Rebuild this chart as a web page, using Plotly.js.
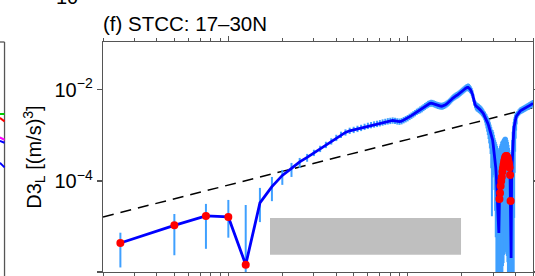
<!DOCTYPE html>
<html><head><meta charset="utf-8">
<script src="https://cdn.plot.ly/plotly-3.0.1.min.js"></script>
<style>html,body{margin:0;padding:0;background:#fff;}#chart{width:535px;height:276px;}</style>
</head><body><div id="chart"></div>
<script>
// separation distance r (km)
const r = [
  2.5, 5, 7.5, 10, 12.5, 15, 17.5, 20, 22.5, 25,
  27.5, 30, 32.5, 35, 37.5, 40, 42.5, 45, 47.5, 50,
  52.5, 55, 57.5, 60, 62.5, 65, 67.5, 70, 72.5, 75,
  77.5, 80, 82.5, 85, 87.5, 90, 92.5, 95, 97.5, 100,
  102.5, 105, 107.5, 110, 112.5, 115, 117.5, 120, 122.5, 125,
  127.5, 130, 132.5, 135, 137.5, 140, 142.5, 145, 147.5, 150,
  152.5, 155, 157.5, 160, 162.5, 165, 167.5, 170, 172.5, 175,
  177.5, 180, 182.5, 185, 187.5, 190, 192.5, 195, 197.5, 200,
  202.5, 205, 207.5, 210, 212.5, 215, 217.5, 220, 222.5, 225,
  227.5, 230, 232.5, 235, 237.5, 240, 242.5, 245, 247.5, 250,
  252.5, 255, 257.5, 260, 262.5, 265, 267.5, 270, 272.5, 275,
  277.5, 280, 282.5, 285, 287.5, 290, 292.5, 295, 297.5, 300,
  302.5, 305, 307.5, 310, 312.5, 315, 317.5, 320, 322.5, 325,
  327.5, 330, 332.5, 335, 337.5, 340, 342.5, 345, 347.5, 350,
  352.5, 355, 357.5, 360, 362.5, 365, 367.5, 370, 372.5, 375,
  377.5, 380, 382.5, 385, 387.5, 390, 392.5, 395, 397.5, 400,
  402.5, 405, 407.5, 410, 415, 420, 425, 430, 435, 440,
  445, 450, 455, 460, 465, 470, 475, 480, 485, 490,
  495, 500
];
// third-order longitudinal structure function D3_L ((m/s)^3), signed
const d3 = [
  -4.34e-6, -1.06e-5, -1.70e-5, -1.62e-5, -1.45e-6, 3.28e-5, 7.49e-5, 1.32e-4, 1.88e-4, 2.62e-4,
  3.29e-4, 4.13e-4, 5.05e-4, 6.18e-4, 7.38e-4, 8.81e-4, 1.03e-3, 1.16e-3, 1.26e-3, 1.32e-3,
  1.39e-3, 1.46e-3, 1.54e-3, 1.62e-3, 1.68e-3, 1.74e-3, 1.79e-3, 1.85e-3, 1.92e-3, 1.98e-3,
  2.04e-3, 2.08e-3, 2.12e-3, 2.08e-3, 2.03e-3, 2.00e-3, 2.05e-3, 2.16e-3, 2.27e-3, 2.39e-3,
  2.55e-3, 2.71e-3, 2.89e-3, 3.08e-3, 3.29e-3, 3.46e-3, 3.63e-3, 3.82e-3, 4.06e-3, 4.32e-3,
  4.56e-3, 4.80e-3, 4.97e-3, 5.08e-3, 5.05e-3, 4.92e-3, 4.78e-3, 4.63e-3, 4.52e-3, 4.45e-3,
  4.38e-3, 4.36e-3, 4.41e-3, 4.52e-3, 4.68e-3, 4.88e-3, 5.10e-3, 5.37e-3, 5.67e-3, 6.03e-3,
  6.41e-3, 6.74e-3, 7.02e-3, 7.27e-3, 7.53e-3, 7.76e-3, 8.04e-3, 8.38e-3, 8.72e-3, 9.13e-3,
  9.51e-3, 9.90e-3, 1.03e-2, 1.07e-2, 1.11e-2, 1.13e-2, 1.13e-2, 1.10e-2, 1.04e-2, 9.80e-3,
  9.04e-3, 7.96e-3, 6.67e-3, 5.45e-3, 4.80e-3, 4.45e-3, 4.23e-3, 4.10e-3, 3.98e-3, 3.86e-3,
  3.73e-3, 3.60e-3, 3.46e-3, 3.29e-3, 3.12e-3, 2.94e-3, 2.75e-3, 2.55e-3, 2.36e-3, 2.19e-3,
  2.01e-3, 1.84e-3, 1.66e-3, 1.48e-3, 1.29e-3, 1.11e-3, 9.51e-4, 8.38e-4, 7.96e-4, 6.18e-4,
  4.80e-4, 3.73e-4, 2.75e-4, 1.93e-4, 1.22e-4, 7.02e-5, 3.82e-5, 1.79e-5, 7.20e-6, -4.02e-5,
  -5.45e-5, -7.77e-5, -1.00e-4, -1.22e-4, -1.58e-4, -1.93e-4, -2.25e-4, -2.62e-4, -2.97e-4, -3.29e-4,
  -3.46e-4, -3.54e-4, -3.46e-4, -3.29e-4, -3.04e-4, -2.68e-4, -2.36e-4, -1.98e-4, -1.35e-4, -3.63e-5,
  2.03e-6, 1.35e-4, 2.89e-4, 5.59e-4, 8.81e-4, 1.19e-3, 1.54e-3, 1.88e-3, 2.19e-3, 2.42e-3,
  2.55e-3, 2.68e-3, 2.79e-3, 2.89e-3, 3.12e-3, 3.29e-3, 3.46e-3, 3.55e-3, 3.63e-3, 3.73e-3,
  3.82e-3, 3.92e-3, 4.02e-3, 4.13e-3, 4.23e-3, 4.34e-3, 4.45e-3, 4.56e-3, 4.68e-3, 4.80e-3,
  4.92e-3, 5.05e-3
];
// upper / lower error (percent of |D3_L|)
const errHiPct = [
  68, 77, 84, 136, 1950, 114, 63, 32, 32, 22,
  19, 17, 17, 17, 17, 17, 17, 17, 17, 17,
  17, 17, 17, 17, 17, 17, 17, 17, 17, 17,
  17, 17, 17, 17, 17, 17, 17, 17, 17, 17,
  17, 17, 17, 17, 17, 17, 19, 19, 19, 19,
  19, 19, 19, 19, 19, 19, 19, 19, 19, 19,
  19, 19, 19, 19, 19, 19, 19, 19, 19, 19,
  19, 19, 19, 19, 19, 19, 19, 19, 19, 19,
  19, 19, 19, 19, 19, 19, 22, 22, 22, 22,
  22, 22, 22, 22, 22, 25, 25, 25, 25, 25,
  25, 25, 25, 25, 25, 25, 25, 29, 29, 33,
  33, 35, 40, 45, 50, 55, 60, 60, 65, 93,
  114, 136, 190, 273, 431, 737, 1270, 2590, 5900, 1220,
  980, 737, 620, 518, 405, 334, 292, 245, 212, 182,
  168, 155, 155, 142, 136, 130, 125, 119, 136, 518,
  1780, 254, 175, 114, 84, 66, 50, 35, 29, 26,
  22, 22, 19, 19, 19, 19, 19, 19, 19, 19,
  19, 19, 19, 19, 19, 19, 19, 19, 19, 19,
  19, 19
];
const errLoPct = [
  71, 78, 81, 65, 100, 62, 52, 38, 35, 26,
  20, 15, 15, 15, 15, 15, 15, 15, 15, 15,
  15, 15, 15, 15, 15, 15, 15, 15, 15, 15,
  15, 15, 15, 15, 15, 15, 15, 15, 15, 15,
  15, 15, 15, 15, 15, 15, 16, 16, 16, 16,
  16, 16, 16, 16, 16, 16, 16, 16, 16, 16,
  16, 16, 16, 16, 16, 16, 16, 16, 16, 16,
  16, 16, 16, 16, 16, 16, 16, 16, 16, 16,
  16, 16, 16, 16, 16, 16, 18, 18, 18, 18,
  18, 18, 18, 18, 18, 20, 20, 20, 20, 20,
  20, 20, 20, 20, 20, 20, 22, 25, 30, 35,
  40, 45, 50, 55, 60, 65, 80, 98, 85, 64,
  72, 83, 92, 97, 100, 100, 100, 100, 100, 100,
  100, 100, 100, 100, 100, 99.3, 99.3, 99.1, 99.1, 99.1,
  99.2, 99.3, 99.35, 99.5, 100, 100, 100, 100, 100, 100,
  100, 100, 100, 100, 100, 100, 99, 92, 80, 65,
  50, 35, 16, 16, 16, 16, 16, 16, 16, 16,
  16, 16, 16, 16, 16, 16, 16, 16, 16, 16,
  16, 16
];
// reference slope r^1
const refR = [2, 500];
const refD3 = [1.62e-5, 4.05e-3];
const yTickVals = [1e-6, 1e-4, 1e-2];
const yTickText = ['10<sup>\u22126</sup>', '10<sup>\u22124</sup>', '10<sup>\u22122</sup>'];

const absD3 = d3.map(Math.abs);
const errPlus = absD3.map((v, i) => v * errHiPct[i] / 100);
const errMinus = absD3.map((v, i) => v * errLoPct[i] / 100);
const negR = [], negD3 = [];
d3.forEach((v, i) => { if (v < 0) { negR.push(r[i]); negD3.push(-v); } });

const axisColor = '#555';
const fontFam = 'Liberation Sans, Arial, sans-serif';
const traces = [
  { x: refR, y: refD3, mode: 'lines', type: 'scatter', hoverinfo: 'skip',
    line: { color: '#000', width: 1.5, dash: '11px,7px' } },
  { x: r, y: absD3, mode: 'lines', type: 'scatter',
    line: { color: '#0000ff', width: 2.8 },
    error_y: { type: 'data', symmetric: false, array: errPlus, arrayminus: errMinus,
               color: '#3fa0ff', thickness: 2, width: 0, visible: true } },
  { x: negR, y: negD3, mode: 'markers', type: 'scatter',
    marker: { color: '#ff0000', size: 8, line: { width: 0 } } }
];
// fragments of the neighbouring panel on the left edge
const nb = -0.229;
const layout = {
  width: 535, height: 276,
  margin: { l: 103, r: 2, t: 42, b: 4, pad: 0 },
  paper_bgcolor: '#fff', plot_bgcolor: '#fff',
  showlegend: false,
  font: { family: fontFam, size: 20, color: '#000' },
  title: { text: '(f) STCC: 17\u201330N', xref: 'paper', x: 0, xanchor: 'left',
           yref: 'container', y: 0.915, yanchor: 'middle',
           font: { family: fontFam, size: 20.5, color: '#000' } },
  xaxis: {
    type: 'log', range: [Math.log10(2), Math.log10(500)],
    showline: true, linecolor: axisColor, linewidth: 1.3, mirror: 'ticks',
    ticks: 'outside', ticklen: 5, tickwidth: 1.2, tickcolor: axisColor,
    dtick: 1, showticklabels: false, showgrid: false, zeroline: false,
    minor: { ticks: 'outside', ticklen: 2.5, tickwidth: 1, tickcolor: axisColor, dtick: 'D1', showgrid: false }
  },
  yaxis: {
    type: 'log', range: [-6, -0.95],
    showline: true, linecolor: axisColor, linewidth: 1.3, mirror: 'ticks',
    ticks: 'outside', ticklen: 5, tickwidth: 1.2, tickcolor: axisColor,
    tickmode: 'array', tickvals: yTickVals, ticktext: yTickText,
    tickfont: { family: fontFam, size: 20, color: '#000' },
    showgrid: false, zeroline: false,
    title: { text: 'D3<sub>L</sub> [(m/s)<sup>3</sup>]', font: { family: fontFam, size: 20, color: '#000' }, standoff: 7 }
  },
  shapes: [
    { type: 'rect', xref: 'paper', yref: 'paper', x0: 0.3884, x1: 0.8326, y0: 0.0752, y1: 0.2348,
      fillcolor: '#bfbfbf', line: { width: 0 }, layer: 'above' },
    { type: 'line', xref: 'paper', yref: 'paper', x0: nb, x1: nb, y0: 1, y1: -0.03,
      line: { color: axisColor, width: 1.3 } },
    { type: 'line', xref: 'paper', yref: 'paper', x0: -0.24, x1: nb, y0: 1, y1: 1,
      line: { color: axisColor, width: 1.3 } },
    { type: 'line', xref: 'paper', yref: 'paper', x0: -0.24, x1: nb, y0: 0.687, y1: 0.687,
      line: { color: '#00cc00', width: 2 } },
    { type: 'line', xref: 'paper', yref: 'paper', x0: -0.24, x1: nb, y0: 0.67, y1: 0.655,
      line: { color: '#ff0000', width: 2 } },
    { type: 'line', xref: 'paper', yref: 'paper', x0: -0.24, x1: nb, y0: 0.585, y1: 0.575,
      line: { color: '#ff00ff', width: 2 } },
    { type: 'line', xref: 'paper', yref: 'paper', x0: -0.24, x1: nb, y0: 0.57, y1: 0.562,
      line: { color: '#0000ff', width: 2 } },
    { type: 'line', xref: 'paper', yref: 'paper', x0: -0.24, x1: nb, y0: 0.475, y1: 0.455,
      line: { color: '#0000ff', width: 2 } }
  ],
  annotations: [
    { text: '10', xref: 'paper', yref: 'paper', x: -0.0837, y: 1.196, showarrow: false,
      xanchor: 'center', yanchor: 'middle', font: { family: fontFam, size: 20, color: '#000' } }
  ]
};
Plotly.newPlot('chart', traces, layout, { staticPlot: true, displayModeBar: false });
</script>
</body></html>
